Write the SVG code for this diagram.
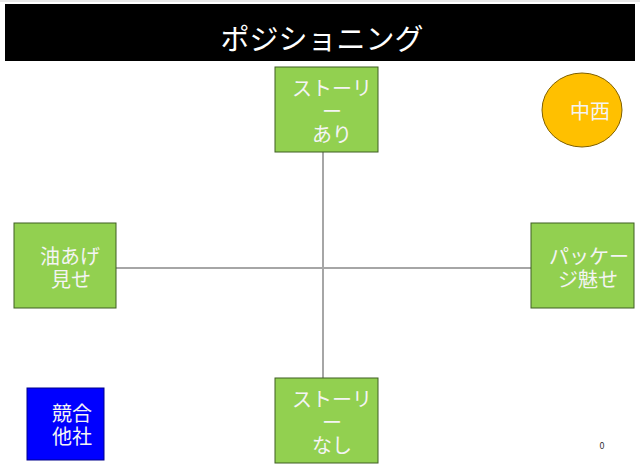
<svg xmlns="http://www.w3.org/2000/svg" width="640" height="474" viewBox="0 0 640 474">
<style>
text{font-family:"Noto Sans CJK JP","Noto Sans",sans-serif;fill:#fff;text-anchor:middle}
.g{fill:#92D050;stroke:#3F5F22;stroke-width:1}
.lbl{font-size:20px;fill:#F4F4F4}
.c{stroke:#A6A6A6;stroke-width:2;fill:none}
</style>
<rect x="0" y="0" width="640" height="474" fill="#fff"/>
<line x1="0" y1="1" x2="640" y2="1" stroke="#D0D0D0" stroke-width="1"/>
<g id="title">
<rect x="5" y="4" width="630" height="57" fill="#000"/>
<text x="322" y="50" style="font-size:29px">ポジショニング</text>
</g>
<g id="connectors">
<line class="c" x1="323" y1="152" x2="323" y2="378"/>
<line class="c" x1="116" y1="268" x2="531" y2="268"/>
</g>
<g id="story-ari">
<rect class="g" x="275" y="67" width="103" height="85"/>
<text class="lbl" x="332" y="96">ストーリ</text>
<text class="lbl" x="332" y="119">ー</text>
<text class="lbl" x="332" y="142">あり</text>
</g>
<g id="story-nashi">
<rect class="g" x="275" y="378" width="103" height="85"/>
<text class="lbl" x="332" y="407">ストーリ</text>
<text class="lbl" x="332" y="430">ー</text>
<text class="lbl" x="332" y="453">なし</text>
</g>
<g id="aburaage">
<rect class="g" x="14" y="223" width="102" height="85"/>
<text class="lbl" x="70" y="264">油あげ</text>
<text class="lbl" x="71" y="287">見せ</text>
</g>
<g id="package">
<rect class="g" x="531" y="223" width="103" height="85"/>
<text class="lbl" x="589" y="264">パッケー</text>
<text class="lbl" x="588" y="287">ジ魅せ</text>
</g>
<g id="nakanishi">
<ellipse cx="582" cy="110" rx="40" ry="37" fill="#FFC000" stroke="#7F6000" stroke-width="1"/>
<text class="lbl" x="590" y="119">中西</text>
</g>
<g id="competitor">
<rect x="27" y="388" width="77" height="72" fill="#0000FF" stroke="#00008B" stroke-width="1"/>
<text class="lbl" x="72" y="421">競合</text>
<text class="lbl" x="72" y="444">他社</text>
</g>
<text x="602" y="449" style="font-size:9px;fill:#333">0</text>
</svg>
